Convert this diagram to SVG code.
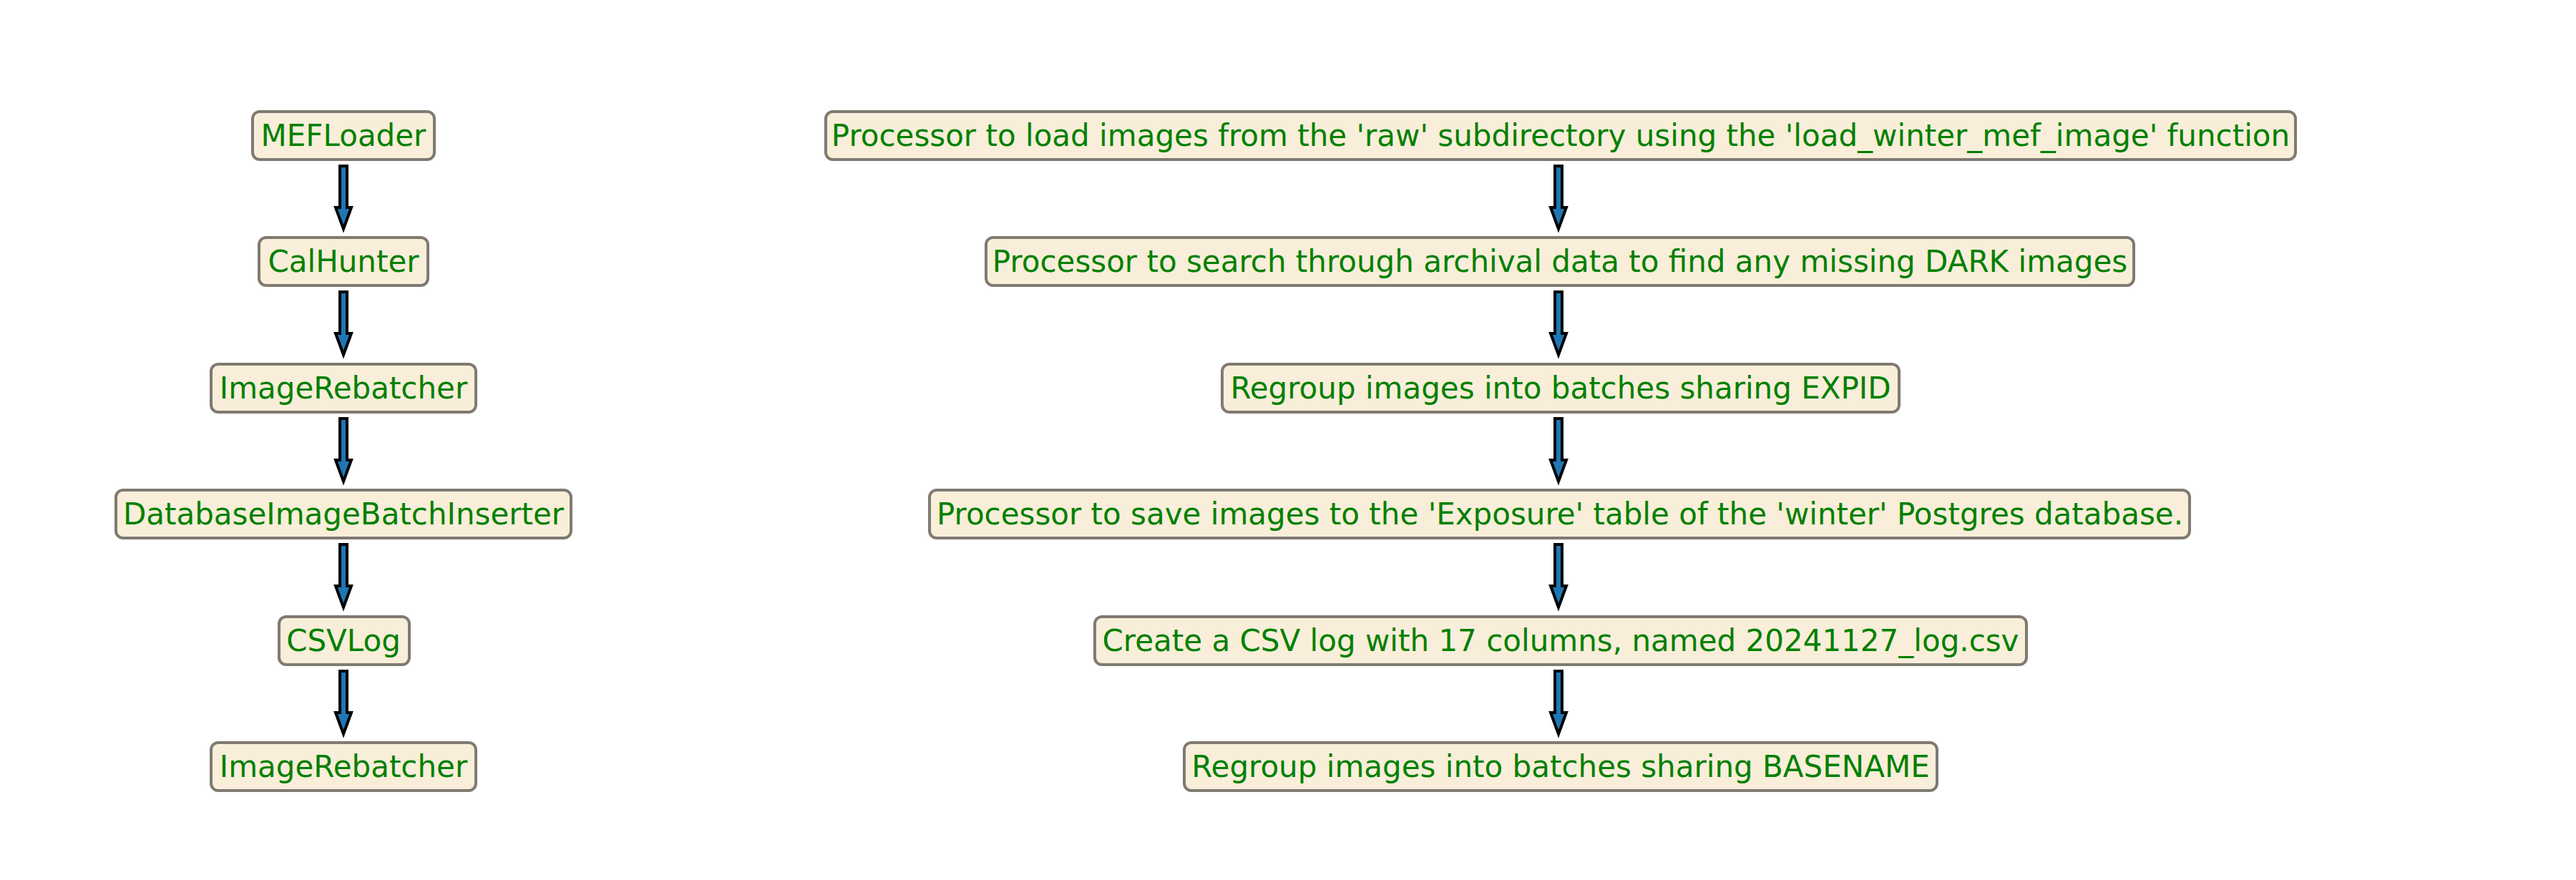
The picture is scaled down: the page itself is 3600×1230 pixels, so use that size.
<svg xmlns="http://www.w3.org/2000/svg" width="3600" height="1230" viewBox="0 0 3600 1230">
<defs>
<style>
.b{fill:#f9eed9;stroke:#7f7a72;stroke-width:4}
.t{font-family:"DejaVu Sans",sans-serif;font-size:42px;fill:#008000;text-anchor:middle;dominant-baseline:central}
.a{fill:#1f77b4;stroke:#000;stroke-width:4;stroke-linejoin:miter}
</style>
<path id="ar" class="a" d="M-5,0 H5 V58 H11 L0,88 L-11,58 H-5 Z"/>
</defs>
<rect width="3600" height="1230" fill="#fff"/>
<g id="connectors">
<use href="#ar" x="480" y="232"/><use href="#ar" x="480" y="408"/><use href="#ar" x="480" y="585"/><use href="#ar" x="480" y="761"/><use href="#ar" x="480" y="938"/>
<use href="#ar" x="2178" y="232"/><use href="#ar" x="2178" y="408"/><use href="#ar" x="2178" y="585"/><use href="#ar" x="2178" y="761"/><use href="#ar" x="2178" y="938"/>
</g>
<g id="n1"><rect class="b" x="353" y="156" width="254" height="67" rx="10"/><text class="t" x="480" y="189">MEFLoader</text></g>
<g id="n2"><rect class="b" x="362" y="332" width="236" height="67" rx="10"/><text class="t" x="480" y="365">CalHunter</text></g>
<g id="n3"><rect class="b" x="295" y="509" width="370" height="67" rx="10"/><text class="t" x="480" y="542">ImageRebatcher</text></g>
<g id="n4"><rect class="b" x="162" y="685" width="636" height="67" rx="10"/><text class="t" x="480" y="718">DatabaseImageBatchInserter</text></g>
<g id="n5"><rect class="b" x="390" y="862" width="182" height="67" rx="10"/><text class="t" x="480" y="895">CSVLog</text></g>
<g id="n6"><rect class="b" x="295" y="1038" width="370" height="67" rx="10"/><text class="t" x="480" y="1071">ImageRebatcher</text></g>
<g id="d1"><rect class="b" x="1154" y="156" width="2054" height="67" rx="10"/><text class="t" x="2181" y="189">Processor to load images from the 'raw' subdirectory using the 'load_winter_mef_image' function</text></g>
<g id="d2"><rect class="b" x="1378" y="332" width="1604" height="67" rx="10"/><text class="t" x="2180" y="365">Processor to search through archival data to find any missing DARK images</text></g>
<g id="d3"><rect class="b" x="1708" y="509" width="946" height="67" rx="10"/><text class="t" x="2181" y="542">Regroup images into batches sharing EXPID</text></g>
<g id="d4"><rect class="b" x="1299" y="685" width="1761" height="67" rx="10"/><text class="t" x="2180" y="718">Processor to save images to the 'Exposure' table of the 'winter' Postgres database.</text></g>
<g id="d5"><rect class="b" x="1530" y="862" width="1302" height="67" rx="10"/><text class="t" x="2181" y="895">Create a CSV log with 17 columns, named 20241127_log.csv</text></g>
<g id="d6"><rect class="b" x="1655" y="1038" width="1052" height="67" rx="10"/><text class="t" x="2181" y="1071">Regroup images into batches sharing BASENAME</text></g>
</svg>
